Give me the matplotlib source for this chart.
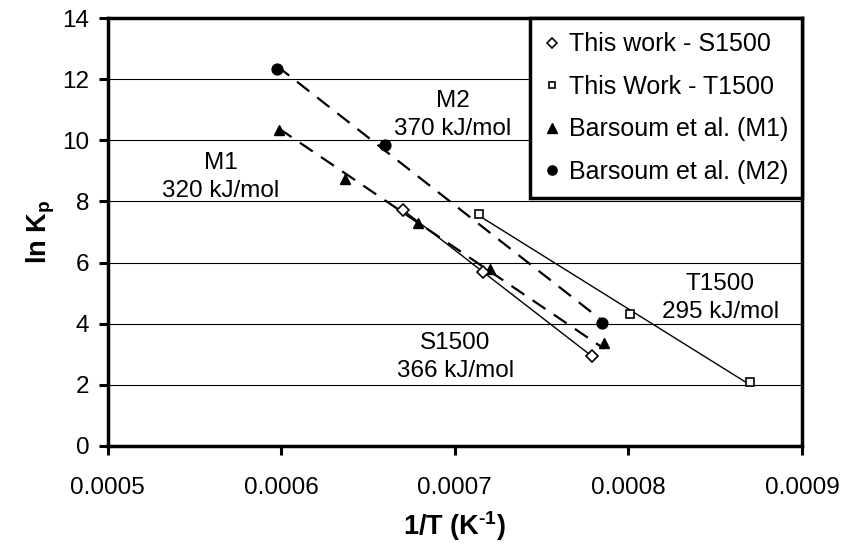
import matplotlib
matplotlib.use("Agg")
import matplotlib.pyplot as plt
import numpy as np

plt.rcParams["font.family"] = ["Liberation Sans", "DejaVu Sans"]
plt.rcParams["mathtext.fontset"] = "custom"
plt.rcParams["mathtext.rm"] = "Liberation Sans"
plt.rcParams["mathtext.bf"] = "Liberation Sans:bold"
plt.rcParams["mathtext.it"] = "Liberation Sans:italic"

# Gas constant in kJ/(mol K)
R_KJ = 8.314e-3

# ln Kp versus reciprocal temperature
s1500_x = [0.000670, 0.000716, 0.000779]
s1500_y = [7.72, 5.70, 2.94]
t1500_x = [0.000714, 0.000801, 0.000870]
t1500_y = [7.58, 4.31, 2.08]
m1_x = [0.0005985, 0.000637, 0.000679, 0.000720, 0.000786]
m1_y = [10.34, 8.73, 7.28, 5.78, 3.37]
m2_x = [0.0005975, 0.000660, 0.0007847]
m2_y = [12.34, 9.85, 4.01]

# Activation energies (kJ/mol) quoted for each fit
e_s1500 = 366
e_t1500 = 295
e_m1 = 320
e_m2 = 370

series_labels = ["This work - S1500", "This Work - T1500",
                 "Barsoum et al. (M1)", "Barsoum et al. (M2)"]

x_ticks = [0.0005, 0.0006, 0.0007, 0.0008, 0.0009]
x_tick_labels = ["0.0005", "0.0006", "0.0007", "0.0008", "0.0009"]
y_ticks = [0, 2, 4, 6, 8, 10, 12, 14]


def arrhenius_line(xs, ys, energy):
    """Line with slope -E/R through the centroid of the points."""
    xs = np.asarray(xs)
    ys = np.asarray(ys)
    slope = -energy / R_KJ
    xl = np.array([xs.min(), xs.max()])
    yl = ys.mean() + slope * (xl - xs.mean())
    return xl, yl


W, H = 842, 553
fig = plt.figure(figsize=(W / 100, H / 100), dpi=100)
left, right, top, bottom = 107.7, 802.0, 18.3, 445.7
ax = fig.add_axes([left / W, (H - bottom) / H, (right - left) / W, (bottom - top) / H])

fs = 17.5
lw_frame = 2.5

# Fit lines
xl, yl = arrhenius_line(s1500_x, s1500_y, e_s1500)
ax.plot(xl, yl, color="black", lw=1.0, zorder=4)
xl, yl = arrhenius_line(t1500_x, t1500_y, e_t1500)
ax.plot(xl, yl, color="black", lw=1.0, zorder=4)
xl, yl = arrhenius_line(m1_x, m1_y, e_m1)
ax.plot(xl, yl, color="black", lw=1.6, ls=(0, (7, 4.5)), zorder=4)
xl, yl = arrhenius_line(m2_x, m2_y, e_m2)
ax.plot(xl, yl, color="black", lw=1.6, ls=(0, (7, 4.5)), zorder=4)

# Data markers
h_m1, = ax.plot(m1_x, m1_y, ls="none", marker="^", ms=7.8, color="black",
                label=series_labels[2], zorder=3)
h_s, = ax.plot(s1500_x, s1500_y, ls="none", marker="D", ms=5.8, mfc="white",
               mec="black", mew=1.2, label=series_labels[0], zorder=5)
h_t, = ax.plot(t1500_x, t1500_y, ls="none", marker="s", ms=5.4, mfc="white",
               mec="black", mew=1.2, label=series_labels[1], zorder=5)
h_m2, = ax.plot(m2_x, m2_y, ls="none", marker="o", ms=7.8, color="black",
                label=series_labels[3], zorder=5)

# Axes
ax.set_xlim(x_ticks[0], x_ticks[-1])
ax.set_ylim(y_ticks[0], y_ticks[-1])
ax.set_xticks(x_ticks)
ax.set_xticklabels(x_tick_labels)
ax.set_yticks(y_ticks)
ax.yaxis.grid(True, color="black", lw=0.8)
ax.set_axisbelow(True)
for sp in ax.spines.values():
    sp.set_linewidth(lw_frame)
ax.tick_params(axis="x", direction="out", length=6.7, width=2.2, labelsize=fs, pad=16)
ax.tick_params(axis="y", direction="out", length=6.7, width=2.2, labelsize=fs, pad=6.5)

ax.set_xlabel("1/T (K$^{\\mathbf{\u2010}\\mathbf{1}}$)", fontsize=19.5,
              fontweight="bold", va="center")
ax.xaxis.set_label_coords(0.5, -0.188)
ax.set_ylabel(r"ln K$_{\mathbf{p}}$", fontsize=19.5, fontweight="bold", va="center")
ax.yaxis.set_label_coords(-0.096, 0.5)

# Activation-energy annotations
for x, y, name, e in [(0.000565, 8.81, "M1", e_m1),
                      (0.0006987, 10.83, "M2", e_m2),
                      (0.0007003, 2.915, "S1500", e_s1500),
                      (0.000853, 4.83, "T1500", e_t1500)]:
    ax.text(x, y, "%s\n%d kJ/mol" % (name, e), fontsize=fs, ha="center", va="center",
            multialignment="center", linespacing=1.35)

leg = ax.legend(handles=[h_s, h_t, h_m1, h_m2], loc="upper right",
                bbox_to_anchor=(1.0, 1.0), borderaxespad=0, fontsize=18,
                frameon=True, fancybox=False, edgecolor="black", framealpha=1,
                handlelength=0.6, handletextpad=0.37, borderpad=0.56,
                labelspacing=0.74, markerscale=0.85)
leg.get_frame().set_linewidth(lw_frame)
leg.set_zorder(10)

fig.savefig("out.png", dpi=100)
